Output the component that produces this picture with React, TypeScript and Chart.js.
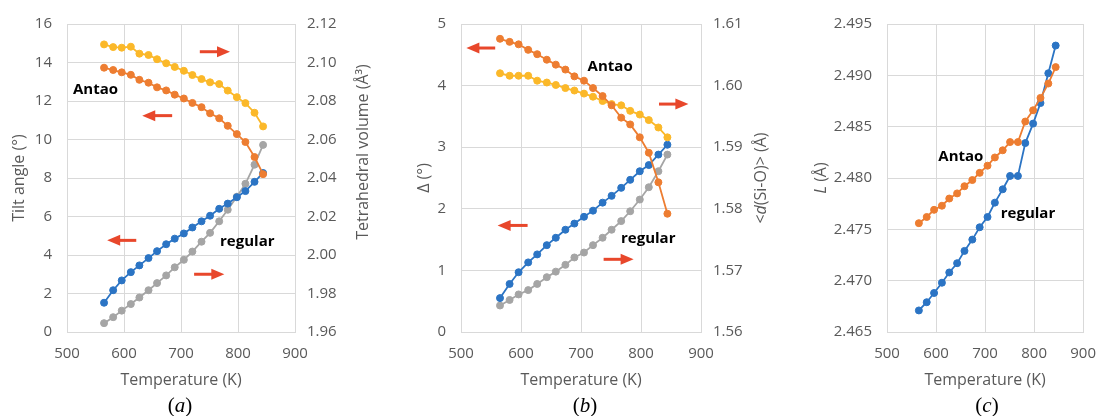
import React, { useEffect, useRef } from "react";
import { Chart, registerables } from "chart.js";
Chart.register(...registerables);

// ---------- data ----------
const temperatures = [565, 581, 596, 612, 627, 643, 658, 674, 689, 705, 720, 736, 751, 767, 782, 798, 813, 829, 844];

// panel (a)
const tiltAntao = [13.73, 13.61, 13.49, 13.36, 13.1, 12.95, 12.71, 12.55, 12.33, 12.13, 11.9, 11.68, 11.36, 11.1, 10.71, 10.28, 9.87, 9.09, 8.2];
const tiltRegular = [1.52, 2.17, 2.68, 3.11, 3.46, 3.84, 4.2, 4.56, 4.85, 5.12, 5.43, 5.75, 6.04, 6.4, 6.67, 7.0, 7.32, 7.8, 8.26];
const volAntao = [2.1094, 2.108, 2.1077, 2.1082, 2.1046, 2.1039, 2.1017, 2.0996, 2.0977, 2.0957, 2.0935, 2.0914, 2.0897, 2.0888, 2.0854, 2.082, 2.0789, 2.0739, 2.0668];
const volRegular = [1.9646, 1.9677, 1.9711, 1.9745, 1.9779, 1.9817, 1.9854, 1.9894, 1.9936, 1.9975, 2.0018, 2.0069, 2.0115, 2.0175, 2.0235, 2.0303, 2.037, 2.0469, 2.0572];

// panel (b)
const deltaAntao = [4.76, 4.71, 4.67, 4.58, 4.51, 4.42, 4.34, 4.26, 4.15, 4.08, 3.96, 3.83, 3.68, 3.48, 3.37, 3.16, 2.91, 2.43, 1.92];
const dsioAntao = [1.602, 1.6016, 1.6016, 1.6016, 1.6008, 1.6005, 1.6001, 1.5996, 1.5992, 1.5987, 1.5982, 1.5975, 1.597, 1.5968, 1.5959, 1.5953, 1.5944, 1.5932, 1.5916];
const deltaRegular = [0.55, 0.78, 0.97, 1.13, 1.26, 1.41, 1.53, 1.66, 1.76, 1.87, 1.97, 2.1, 2.21, 2.34, 2.47, 2.61, 2.71, 2.88, 3.04];
const dsioRegular = [1.5643, 1.5652, 1.5661, 1.5668, 1.5678, 1.5689, 1.5698, 1.5709, 1.5721, 1.5729, 1.5741, 1.5753, 1.5766, 1.578, 1.5796, 1.5815, 1.5835, 1.5861, 1.5888];

// panel (c)
const lAntao = [2.4756, 2.4762, 2.4769, 2.4773, 2.478, 2.4785, 2.4792, 2.4798, 2.4805, 2.4812, 2.482, 2.4827, 2.4835, 2.4835, 2.4855, 2.4866, 2.4878, 2.4892, 2.4908];
const lRegular = [2.4671, 2.4679, 2.4688, 2.4698, 2.4708, 2.4717, 2.4729, 2.474, 2.4752, 2.4762, 2.4776, 2.4789, 2.4802, 2.4802, 2.4834, 2.4853, 2.4873, 2.4902, 2.4929];

const xTicks = [500, 600, 700, 800, 900];

// ---------- styles ----------
const FONT = "'Open Sans', sans-serif";
const TEXT = "#595959";
const GRID = "#d9d9d9";
const BLUE = "#2b74c4";
const ORANGE = "#ed7d31";
const GOLD = "#fbb829";
const GRAY = "#a5a5a5";
const ARROW = "#e8472b";
const H = 416;

type Seg = { t: string; italic?: boolean };
type YTitle = { x: number; y?: number; segs: Seg[] };
type Arrow = { x1: number; x2: number; y: number; head: "left" | "right" };
type Label = { x: number; y: number; text: string };

function makeAnnot(cfg: { arrows: Arrow[]; labels: Label[]; titles: YTitle[] }) {
  return {
    id: "annot",
    afterDatasetsDraw(chart: any) {
      const ctx = chart.ctx as CanvasRenderingContext2D;
      const xs = chart.scales.x;
      const ys = chart.scales.y;
      ctx.save();
      cfg.arrows.forEach((a) => {
        const x1 = xs.getPixelForValue(a.x1);
        const x2 = xs.getPixelForValue(a.x2);
        const y = ys.getPixelForValue(a.y);
        const dir = a.head === "left" ? -1 : 1;
        const headX = a.head === "left" ? x1 : x2;
        const tailX = a.head === "left" ? x2 : x1;
        const hl = 13;
        const hw = 5.5;
        ctx.strokeStyle = ARROW;
        ctx.lineWidth = 3;
        ctx.beginPath();
        ctx.moveTo(tailX, y);
        ctx.lineTo(headX - dir * (hl - 1), y);
        ctx.stroke();
        ctx.fillStyle = ARROW;
        ctx.beginPath();
        ctx.moveTo(headX, y);
        ctx.lineTo(headX - dir * hl, y - hw);
        ctx.lineTo(headX - dir * hl, y + hw);
        ctx.closePath();
        ctx.fill();
      });
      ctx.fillStyle = "#000";
      ctx.font = `bold 15px ${FONT}`;
      ctx.textAlign = "left";
      ctx.textBaseline = "middle";
      cfg.labels.forEach((l) => {
        ctx.fillText(l.text, xs.getPixelForValue(l.x), ys.getPixelForValue(l.y));
      });
      ctx.restore();
    },
    afterDraw(chart: any) {
      const ctx = chart.ctx as CanvasRenderingContext2D;
      const area = chart.chartArea;
      cfg.titles.forEach((t) => {
        ctx.save();
        const cy = t.y ?? (area.top + area.bottom) / 2;
        ctx.translate(t.x, cy);
        ctx.rotate(-Math.PI / 2);
        ctx.fillStyle = TEXT;
        ctx.textBaseline = "middle";
        ctx.textAlign = "left";
        const fontFor = (s: Seg) => `${s.italic ? "italic " : ""}16px ${FONT}`;
        let total = 0;
        t.segs.forEach((s) => {
          ctx.font = fontFor(s);
          total += ctx.measureText(s.t).width;
        });
        let x = -total / 2;
        t.segs.forEach((s) => {
          ctx.font = fontFor(s);
          ctx.fillText(s.t, x, 0);
          x += ctx.measureText(s.t).width;
        });
        ctx.restore();
      });
    },
  };
}

function series(values: number[], color: string, axis: string) {
  return {
    data: temperatures.map((t, i) => ({ x: t, y: values[i] })),
    borderColor: color,
    backgroundColor: color,
    pointBackgroundColor: color,
    pointBorderColor: color,
    pointBorderWidth: 1,
    pointRadius: 3.5,
    borderWidth: 1.8,
    yAxisID: axis,
    tension: 0,
  };
}

type AxisSpec = { min: number; max: number; step: number; dec: number };

function makeConfig(p: {
  datasets: any[];
  left: AxisSpec;
  right?: AxisSpec;
  padTop: number;
  leftW: number;
  rightW?: number;
  annot: { arrows: Arrow[]; labels: Label[]; titles: YTitle[] };
}) {
  const tickFont = { family: FONT, size: 15 };
  const scales: any = {
    x: {
      type: "linear",
      min: 500,
      max: 900,
      afterBuildTicks: (s: any) => {
        s.ticks = xTicks.map((v) => ({ value: v }));
      },
      ticks: { color: TEXT, font: tickFont, padding: 13, callback: (v: any) => String(v) },
      grid: { color: GRID, drawTicks: false, lineWidth: 1 },
      border: { color: GRID },
      title: {
        display: true,
        text: "Temperature (K)",
        color: TEXT,
        font: { family: FONT, size: 16 },
        padding: { top: 0, bottom: 26 },
      },
      afterFit: (s: any) => {
        s.height = 84;
      },
    },
    y: {
      type: "linear",
      position: "left",
      min: p.left.min,
      max: p.left.max,
      ticks: {
        stepSize: p.left.step,
        color: TEXT,
        font: tickFont,
        padding: 15,
        callback: (v: any) => Number(v).toFixed(p.left.dec),
      },
      grid: { color: GRID, drawTicks: false, lineWidth: 1 },
      border: { color: GRID },
      afterFit: (s: any) => {
        s.width = p.leftW;
      },
    },
  };
  if (p.right) {
    const r = p.right;
    scales.y1 = {
      type: "linear",
      position: "right",
      min: r.min,
      max: r.max,
      ticks: {
        stepSize: r.step,
        color: TEXT,
        font: tickFont,
        padding: 12,
        callback: (v: any) => Number(v).toFixed(r.dec),
      },
      grid: { display: false, drawTicks: false },
      border: { color: GRID },
      afterFit: (s: any) => {
        s.width = p.rightW;
      },
    };
  }
  return {
    type: "line" as const,
    data: { datasets: p.datasets },
    options: {
      responsive: false,
      animation: false as const,
      devicePixelRatio: 1,
      layout: { padding: { top: p.padTop, left: 0, right: 0, bottom: 0 } },
      plugins: { legend: { display: false }, tooltip: { enabled: false } },
      scales,
    },
    plugins: [makeAnnot(p.annot)],
  };
}

function Panel({ left, width, config }: { left: number; width: number; config: any }) {
  const ref = useRef<HTMLCanvasElement>(null);
  useEffect(() => {
    const chart = new Chart(ref.current as HTMLCanvasElement, config);
    return () => chart.destroy();
  }, []);
  return (
    <canvas
      ref={ref}
      width={width}
      height={H}
      style={{ position: "absolute", left, top: 0, width, height: H }}
    />
  );
}

const configA = makeConfig({
  datasets: [
    series(tiltAntao, ORANGE, "y"),
    series(volAntao, GOLD, "y1"),
    series(tiltRegular, BLUE, "y"),
    series(volRegular, GRAY, "y1"),
  ],
  left: { min: 0, max: 16, step: 2, dec: 0 },
  right: { min: 1.96, max: 2.12, step: 0.02, dec: 2 },
  padTop: 10.3,
  leftW: 67,
  rightW: 80,
  annot: {
    arrows: [
      { x1: 733, x2: 786, y: 14.56, head: "right" },
      { x1: 632, x2: 684.5, y: 11.24, head: "left" },
      { x1: 570.5, x2: 621.5, y: 4.76, head: "left" },
      { x1: 723, x2: 776, y: 3.0, head: "right" },
    ],
    labels: [
      { x: 510.5, y: 12.6, text: "Antao" },
      { x: 768.5, y: 4.7, text: "regular" },
    ],
    titles: [
      { x: 19, segs: [{ t: "Tilt angle (°)" }] },
      { x: 363, y: 152, segs: [{ t: "Tetrahedral volume (Å³)" }] },
    ],
  },
});

const configB = makeConfig({
  datasets: [
    series(deltaAntao, ORANGE, "y"),
    series(dsioAntao, GOLD, "y1"),
    series(deltaRegular, BLUE, "y"),
    series(dsioRegular, GRAY, "y1"),
  ],
  left: { min: 0, max: 5, step: 1, dec: 0 },
  right: { min: 1.56, max: 1.61, step: 0.01, dec: 2 },
  padTop: 7.3,
  leftW: 66,
  rightW: 74,
  annot: {
    arrows: [
      { x1: 509, x2: 557, y: 4.61, head: "left" },
      { x1: 830, x2: 879, y: 3.7, head: "right" },
      { x1: 561, x2: 611, y: 1.73, head: "left" },
      { x1: 737.7, x2: 787.7, y: 1.18, head: "right" },
    ],
    labels: [
      { x: 711, y: 4.31, text: "Antao" },
      { x: 766.7, y: 1.51, text: "regular" },
    ],
    titles: [
      { x: 29, segs: [{ t: "Δ (°)" }] },
      { x: 366, segs: [{ t: "<" }, { t: "d", italic: true }, { t: "(Si-O)> (Å)" }] },
    ],
  },
});

const configC = makeConfig({
  datasets: [series(lAntao, ORANGE, "y"), series(lRegular, BLUE, "y")],
  left: { min: 2.465, max: 2.495, step: 0.005, dec: 3 },
  padTop: 10,
  leftW: 87,
  annot: {
    arrows: [],
    labels: [
      { x: 604.6, y: 2.4821, text: "Antao" },
      { x: 732, y: 2.4765, text: "regular" },
    ],
    titles: [{ x: 21.7, segs: [{ t: "L", italic: true }, { t: " (Å)" }] }],
  },
});

function Caption({ cx, letter }: { cx: number; letter: string }) {
  return (
    <div
      style={{
        position: "absolute",
        left: cx - 30,
        width: 60,
        top: 393,
        height: 24,
        lineHeight: "24px",
        textAlign: "center",
        fontFamily: "'Liberation Serif', 'DejaVu Serif', serif",
        fontSize: 21,
        color: "#000",
      }}
    >
      (<i>{letter}</i>)
    </div>
  );
}

export default function App() {
  return (
    <div style={{ position: "absolute", left: 0, top: 0, width: 1109, height: H, background: "#fff", overflow: "hidden" }}>
      <Panel left={0} width={375} config={configA} />
      <Panel left={395} width={380} config={configB} />
      <Panel left={800} width={309} config={configC} />
      <Caption cx={180} letter="a" />
      <Caption cx={585} letter="b" />
      <Caption cx={987} letter="c" />
    </div>
  );
}
